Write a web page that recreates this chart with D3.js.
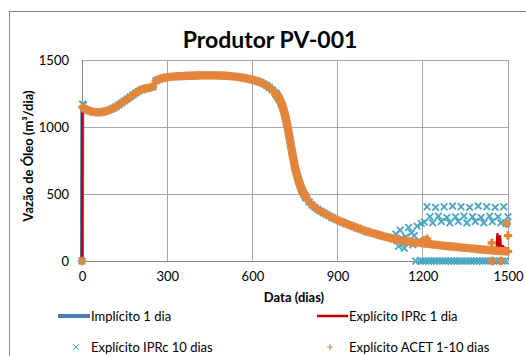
<!DOCTYPE html>
<html><head><meta charset="utf-8">
<script src="https://cdn.jsdelivr.net/npm/d3@7"></script>
<style>body{margin:0;background:#fff}svg{display:block}text{font-family:Lato,"Open Sans",sans-serif;fill:#000}</style>
</head><body><svg id="c" width="526" height="356"></svg>
<script>
// ---- data ----
const title = "Produtor PV-001";
const xLabel = "Data (dias)";
const yLabel = "Vazão de Óleo (m³/dia)";
const xTicks = [0, 300, 600, 900, 1200, 1500];
const yTicks = [0, 500, 1000, 1500];
const seriesNames = ["Implícito 1 dia", "Explícito IPRc 1 dia", "Explícito IPRc 10 dias", "Explícito ACET 1-10 dias"];

// base curve, every 10 days from 10 to 1500
const baseDays = d3.range(10, 1501, 10);
const baseValues = [
 1135,1125,1118,1113,1110,1110,1112,1116,1122,1130,
 1140,1152,1165,1180,1195,1210,1225,1240,1255,1268,
 1278,1285,1290,1295,1300,1345,1355,1362,1367,1371,
 1374,1376,1378,1379,1380,1381,1382,1383,1383,1384,
 1384,1385,1385,1385,1385,1385,1385,1384,1384,1383,
 1382,1380,1378,1376,1373,1370,1366,1362,1358,1353,
 1347,1340,1332,1322,1310,1295,1277,1255,1225,1185,
 1125,1040,930,810,700,620,555,505,470,440,
 418,400,385,372,360,348,337,325,315,305,
 296,287,278,270,262,254,246,238,230,222,
 216,210,204,198,192,186,180,175,170,165,
 160,156,152,148,145,142,139,137,135,133,
 130,128,125,122,120,118,115,113,110,108,
 106,104,102,100,98,96,94,92,90,88,
 86,84,82,80,78,76,75,74,73,72
];
// extra readings on the steep decline
const steepDays = [682,684,686,688,692,694,696,698,702,704,706,708,712,714,716,718,722,724,726,728,
 732,734,736,738,742,744,746,748,752,754,756,758,762,764,766,768,772,774,776,778,782,784,786,788];
const steepValues = [1250,1244,1238,1232,1218,1210,1202,1194,1175,1165,1152,1140,1110,1095,1078,1060,1020,998,976,953,
 906,882,858,834,787,765,743,721,682,665,650,635,606,592,580,567,544,533,523,514,497,490,483,476];

// Implícito 1 dia (line)
const implDays = [0, 1, 5].concat(baseDays.filter(d => d <= 1470)).concat([1475, 1480, 1485, 1490, 1495, 1500]);
const implValues = [0, 1150, 1142].concat(baseValues.slice(0, 147)).concat([68, 62, 60, 64, 58, 70]);

// Explícito IPRc 1 dia (line)
const iprc1Days = [0, 1, 5].concat(baseDays.filter(d => d <= 1460)).concat([1463, 1466, 1469, 1472, 1475, 1478, 1482, 1486, 1490, 1494, 1497, 1500]);
const iprc1Values = [0, 1150, 1142].concat(baseValues.slice(0, 146)).concat([200, 90, 75, 185, 80, 74, 110, 70, 100, 60, 95, 70]);

// Explícito IPRc 10 dias (x markers)
const iprc10Days = [0, 2, 6].concat(baseDays.filter(d => d <= 1090)).concat(steepDays).concat([
 1100,1105,1110,1115,1120,1125,1130,1135,1140,1145,1150,1155,1160,1165,1170,1175,1180,1185,1190,1195,
 1200,1205,1210,1215,1220,1225,1230,1235,1240,1245,1250,1255,1260,1265,1270,1275,1280,1285,1290,1295,
 1300,1305,1310,1315,1320,1325,1330,1335,1340,1345,1350,1355,1360,1365,1370,1375,1380,1385,1390,1395,
 1400,1405,1410,1415,1420,1425,1430,1435,1440,1445,1450,1455,1460,1465,1470,1475,1480,1485,1490,1495,1500]);
const iprc10Values = [0, 1170, 1165].concat(baseValues.slice(0, 109)).concat(steepValues).concat([
 165,200,150,110,230,170,130,95,180,150,250,140,210,120,190,0,260,150,0,280,
 0,290,0,405,0,330,0,285,0,400,0,335,0,295,0,405,0,325,0,285,
 0,410,0,330,0,295,0,405,0,335,0,285,0,400,0,330,0,295,0,410,
 0,325,0,285,0,405,0,335,0,295,0,400,0,330,0,285,0,405,0,280,330]);

// Explícito ACET 1-10 dias (+ markers)
const acetDays = [0, 2, 6].concat(baseDays).concat(steepDays).concat([1205, 1215, 1443, 1443, 1475, 1496, 1500]);
const acetValues = [0, 1150, 1142].concat(baseValues).concat(steepValues).concat([155, 165, 135, 0, 0, 280, 190]);

// ---- chart ----
const svg = d3.select("#c");
const m = {l: 82, r: 508, t: 60, b: 261};
const x = d3.scaleLinear().domain([0, 1500]).range([m.l, m.r]);
const y = d3.scaleLinear().domain([0, 1500]).range([m.b, m.t]);

const colBlue = "#4a7ebb", colRed = "#c00000", colTeal = "#4aa6c2", colOrange = "#e5853a";

// outer border
svg.append("rect").attr("x", 9.5).attr("y", 11.5).attr("width", 530).attr("height", 360)
  .attr("fill", "none").attr("stroke", "#868686").attr("stroke-width", 1);

// gridlines
const grid = svg.append("g").attr("stroke", "#a6a6a6").attr("stroke-width", 1).attr("shape-rendering", "crispEdges");
yTicks.forEach(t => grid.append("line").attr("x1", m.l).attr("x2", m.r).attr("y1", y(t)).attr("y2", y(t)));
xTicks.forEach(t => grid.append("line").attr("x1", x(t)).attr("x2", x(t)).attr("y1", m.t).attr("y2", m.b));

// axes
const xAxis = d3.axisBottom(x).tickValues(xTicks).tickFormat(d3.format("d")).tickSize(0).tickPadding(11);
const yAxis = d3.axisLeft(y).tickValues(yTicks).tickFormat(d3.format("d")).tickSize(0).tickPadding(13);
const gx = svg.append("g").attr("transform", `translate(0,${m.b})`).call(xAxis);
const gy = svg.append("g").attr("transform", `translate(${m.l},0)`).call(yAxis);
[gx, gy].forEach(g => {
  g.select(".domain").attr("stroke", "#868686");
  g.selectAll("text").style("font-family", "Lato,'Open Sans',sans-serif").style("font-size", "13px").attr("fill", "#000");
});

// series
const pairs = (days, vals) => days.map((d, i) => [d, vals[i]]);
const line = d3.line().x(d => x(d[0])).y(d => y(d[1]));
svg.append("path").datum(pairs(implDays, implValues)).attr("d", line)
  .attr("fill", "none").attr("stroke", colBlue).attr("stroke-width", 4).attr("stroke-linejoin", "round");
svg.append("path").datum(pairs(iprc1Days, iprc1Values)).attr("d", line)
  .attr("fill", "none").attr("stroke", colRed).attr("stroke-width", 2.5).attr("stroke-linejoin", "round");

const s = 3.3;
svg.append("g").selectAll("path").data(pairs(iprc10Days, iprc10Values)).join("path")
  .attr("d", d => `M${x(d[0])-s},${y(d[1])-s}L${x(d[0])+s},${y(d[1])+s}M${x(d[0])-s},${y(d[1])+s}L${x(d[0])+s},${y(d[1])-s}`)
  .attr("stroke", colTeal).attr("stroke-width", 1.8).attr("fill", "none");

const p = 4.2;
svg.append("g").selectAll("path").data(pairs(acetDays, acetValues)).join("path")
  .attr("d", d => `M${x(d[0])-p},${y(d[1])}L${x(d[0])+p},${y(d[1])}M${x(d[0])},${y(d[1])-p}L${x(d[0])},${y(d[1])+p}`)
  .attr("stroke", colOrange).attr("stroke-width", 3.2).attr("fill", "none");

// titles
svg.append("text").attr("x", 270).attr("y", 48).attr("text-anchor", "middle")
  .style("font-size", "23px").style("font-weight", "bold").text(title);
svg.append("text").attr("x", 294).attr("y", 302).attr("text-anchor", "middle")
  .style("font-size", "13px").style("font-weight", "bold").text(xLabel);
svg.append("text").attr("transform", "translate(33,156) rotate(-90)").attr("text-anchor", "middle")
  .style("font-size", "13px").style("font-weight", "bold").text(yLabel);

// legend
const lg = svg.append("g").style("font-size", "13px");
lg.append("line").attr("x1", 58).attr("x2", 90).attr("y1", 316).attr("y2", 316).attr("stroke", colBlue).attr("stroke-width", 4);
lg.append("text").attr("x", 91).attr("y", 320.5).text(seriesNames[0]);
lg.append("line").attr("x1", 317).attr("x2", 348).attr("y1", 316).attr("y2", 316).attr("stroke", colRed).attr("stroke-width", 2.5);
lg.append("text").attr("x", 349).attr("y", 320.5).text(seriesNames[1]);
lg.append("path").attr("d", `M73,344L79,350M73,350L79,344`).attr("stroke", colTeal).attr("stroke-width", 1);
lg.append("text").attr("x", 91).attr("y", 351.5).text(seriesNames[2]);
lg.append("path").attr("d", `M327,347L333,347M330,344L330,350`).attr("stroke", colOrange).attr("stroke-width", 1);
lg.append("text").attr("x", 349).attr("y", 351.5).text(seriesNames[3]);
</script></body></html>
